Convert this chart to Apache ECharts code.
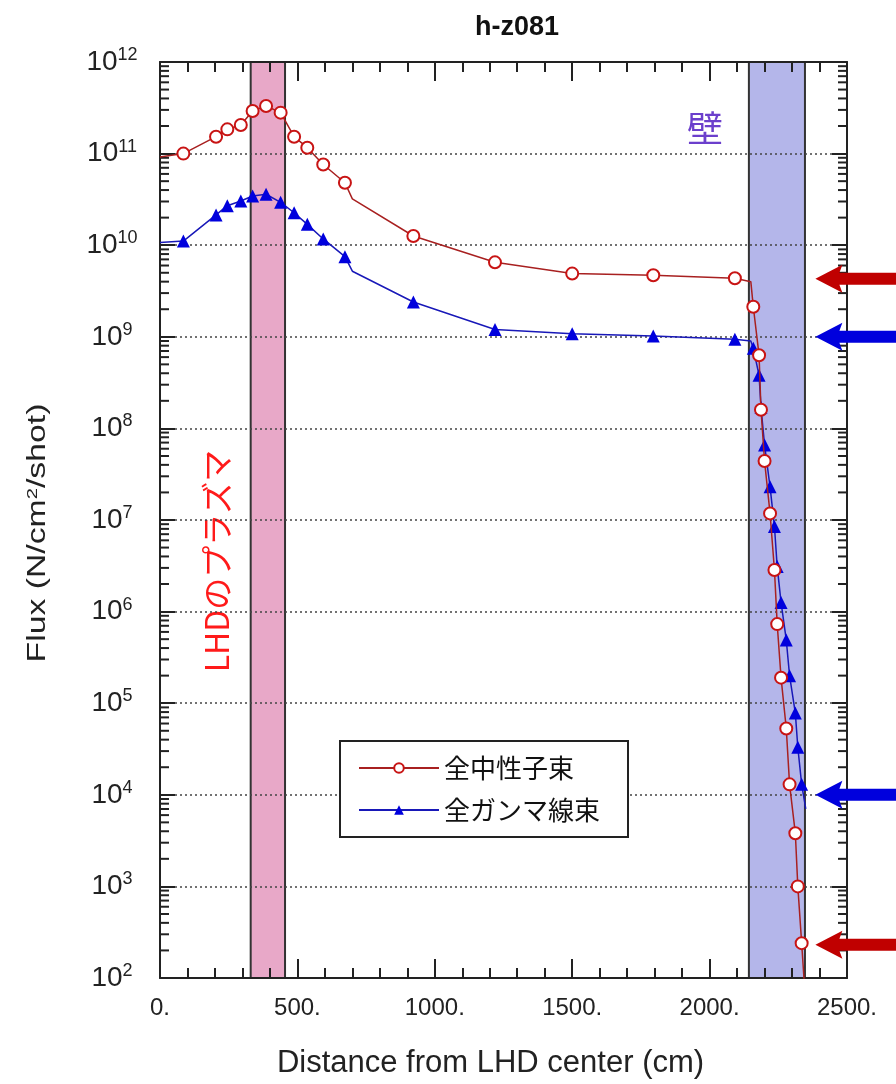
<!DOCTYPE html>
<html>
<head>
<meta charset="utf-8">
<title>h-z081</title>
<script src="https://cdn.jsdelivr.net/npm/echarts@6/dist/echarts.min.js"></script>
<style>
  html, body { margin: 0; padding: 0; background: #fff; }
  #chart { width: 896px; height: 1084px; }
</style>
</head>
<body>
<div id="chart"></div>
<script>
// distance from LHD center (cm), shared by both curves
const distance = [0, 85, 204, 245, 294, 337, 386, 439, 488, 536,
  594, 673, 700, 922, 1219, 1500, 1795, 2092, 2150, 2159,
  2180, 2187, 2200, 2220, 2236, 2246, 2260, 2279, 2291, 2312,
  2321, 2335, 2350]
// 全中性子束 (N/cm2/shot)
const neutronFlux = [9.2e10, 1.0e11, 1.53e11, 1.84e11, 2.05e11, 2.92e11, 3.31e11, 2.8e11, 1.53e11, 1.16e11,
  7.6e10, 4.8e10, 3.2e10, 1.26e10, 6.5e9, 4.9e9, 4.7e9, 4.35e9, 4.0e9, 2.13e9,
  6.3e8, 1.6e8, 4.4e7, 1.18e7, 2.85e6, 7.3e5, 1.9e5, 5.3e4, 1.3e4, 3.8e3,
  1.0e3, 2.4e2, 50]
// 全ガンマ線束
const gammaFlux = [1.07e10, 1.11e10, 2.14e10, 2.7e10, 3.04e10, 3.45e10, 3.6e10, 2.94e10, 2.26e10, 1.69e10,
  1.17e10, 7.5e9, 5.2e9, 2.4e9, 1.2e9, 1.08e9, 1.02e9, 9.4e8, 9.0e8, 7.5e8,
  3.8e8, 1.7e8, 6.6e7, 2.3e7, 8.5e6, 3.1e6, 1.26e6, 4.9e5, 2.0e5, 7.8e4,
  3.3e4, 1.3e4, 7e3]
// points drawn without a marker (line vertices only)
const unmarked = [0, 12, 18, 32]

// shaded regions: LHD plasma and wall
const bandStart = [330, 2143]
const bandEnd = [455, 2347]
const bandColors = ['#e8a8c8', '#b4b6ea']

// arrows at the right edge
const arrowFlux = [4.3e9, 1.0e9, 1.0e4, 2.3e2]
const arrowColors = ['#c00000', '#0000dd', '#0000dd', '#c00000']
const arrowTipX = 2385

const xTicks = [0, 500, 1000, 1500, 2000, 2500]
const yDecades = [2, 3, 4, 5, 6, 7, 8, 9, 10, 11, 12]
const minorMult = [2, 3, 4, 5, 6, 7, 8, 9]

const latin = '"Liberation Sans", Arial, sans-serif'
const cjk = '"Noto Sans CJK JP", sans-serif'
const frame = '#222'

const minorValues = []
yDecades.slice(0, -1).forEach(d => minorMult.forEach(m => minorValues.push(m * Math.pow(10, d))))

function seriesData(flux) {
  return distance.map((x, i) =>
    unmarked.includes(i) ? { value: [x, flux[i]], symbol: 'none' } : [x, flux[i]])
}

const xAxisBase = {
  type: 'value',
  min: xTicks[0],
  max: xTicks[xTicks.length - 1],
  interval: 500,
  axisLine: { show: true, onZero: false, lineStyle: { color: frame, width: 2 } },
  axisTick: { show: true, inside: true, length: 19, lineStyle: { color: frame, width: 2 } },
  minorTick: { show: true, splitNumber: 5, length: 10, lineStyle: { color: frame, width: 2 } },
  splitLine: { show: false },
}

const yAxisBase = {
  type: 'log',
  logBase: 10,
  min: 1e2,
  max: 1e12,
  splitNumber: 10,
  axisLine: { show: true, onZero: false, lineStyle: { color: frame, width: 2 } },
  axisTick: { show: true, inside: true, length: 15, lineStyle: { color: frame, width: 2 } },
}

const chart = echarts.init(document.getElementById('chart'))

chart.setOption({
  animation: false,
  backgroundColor: '#fff',
  grid: { left: 160, right: 49, top: 62, bottom: 106 },
  graphic: [
    {
      type: 'text', x: 517, y: 28,
      style: { text: 'h-z081', fill: '#111', font: 'bold 27px ' + latin, align: 'center', verticalAlign: 'middle' },
    },
    {
      type: 'text', x: 705, y: 128,
      style: { text: '壁', fill: '#6b3fcc', font: '36px ' + cjk, align: 'center', verticalAlign: 'middle' },
    },
    {
      type: 'text', x: 217, y: 561, rotation: Math.PI / 2,
      style: { text: 'LHDのプラズマ', fill: '#ff1a1a', font: '32px ' + cjk, align: 'center', verticalAlign: 'middle' },
    },
    {
      type: 'text', x: 38, y: 533, rotation: Math.PI / 2, scaleX: 1.35,
      style: {
        text: 'Flux (N/cm{s|2}/shot)', fill: '#222', font: '25px ' + latin,
        align: 'center', verticalAlign: 'middle',
        rich: { s: { fontSize: 15, fill: '#222', fontFamily: latin, padding: [0, 0, 10, 0] } },
      },
    },
  ],
  legend: {
    data: ['全中性子束', '全ガンマ線束'],
    orient: 'vertical',
    left: 340,
    top: 741,
    itemWidth: 80,
    itemHeight: 12,
    itemGap: 16,
    padding: [14, 28, 14, 18],
    borderColor: frame,
    borderWidth: 2,
    backgroundColor: '#fff',
    textStyle: { fontSize: 26, fontFamily: cjk, color: '#111' },
  },
  xAxis: [
    {
      ...xAxisBase,
      position: 'bottom',
      axisLabel: { formatter: v => v + '.', fontSize: 24, color: '#222', margin: 18, fontFamily: latin },
      name: 'Distance from LHD center (cm)',
      nameLocation: 'middle',
      nameGap: 70,
      nameTextStyle: { fontSize: 31, color: '#222', fontFamily: latin, padding: [0, 26, 0, 0] },
    },
    { ...xAxisBase, position: 'top', axisLabel: { show: false } },
  ],
  yAxis: [
    {
      ...yAxisBase,
      position: 'left',
      splitLine: { show: true, lineStyle: { type: [2, 3], color: '#444', width: 1.5 } },
      axisLabel: {
        margin: 48,
        align: 'center',
        formatter: v => '{b|10}{s|' + Math.round(Math.log10(v)) + '}',
        rich: {
          b: { fontSize: 28, color: '#222', fontFamily: latin },
          s: { fontSize: 18, color: '#222', fontFamily: latin, padding: [0, 0, 14, 0] },
        },
      },
    },
    { ...yAxisBase, position: 'right', splitLine: { show: false }, axisLabel: { show: false } },
  ],
  series: [
    {
      type: 'custom',
      name: 'bands',
      z: -1,
      silent: true,
      encode: { x: [0, 1], y: 2 },
      data: bandStart.map((s, i) => [s, bandEnd[i], 1e2]),
      renderItem(params, api) {
        const p0 = api.coord([api.value(0), 1e12])
        const p1 = api.coord([api.value(1), 1e2])
        return {
          type: 'rect',
          shape: { x: p0[0], y: p0[1], width: p1[0] - p0[0], height: p1[1] - p0[1] },
          style: { fill: bandColors[params.dataIndex], stroke: '#333', lineWidth: 2 },
        }
      },
    },
    {
      type: 'line',
      name: '全中性子束',
      data: seriesData(neutronFlux),
      symbol: 'emptyCircle',
      symbolSize: 12,
      itemStyle: { color: '#c81414', borderWidth: 2.5 },
      lineStyle: { color: '#a82020', width: 1.5 },
      z: 4,
    },
    {
      type: 'line',
      name: '全ガンマ線束',
      data: seriesData(gammaFlux),
      symbol: 'triangle',
      symbolSize: 13,
      itemStyle: { color: '#0000dd' },
      lineStyle: { color: '#1818b8', width: 1.5 },
      z: 3,
    },
    {
      type: 'custom',
      name: 'minorTicks',
      silent: true,
      encode: { y: 0 },
      data: minorValues.map(v => [v]),
      renderItem(params, api) {
        const l = api.coord([xTicks[0], api.value(0)])
        const r = api.coord([xTicks[xTicks.length - 1], api.value(0)])
        const st = { stroke: frame, lineWidth: 2 }
        return {
          type: 'group',
          children: [
            { type: 'line', shape: { x1: l[0], y1: l[1], x2: l[0] + 9, y2: l[1] }, style: st },
            { type: 'line', shape: { x1: r[0], y1: r[1], x2: r[0] - 9, y2: r[1] }, style: st },
          ],
        }
      },
    },
    {
      type: 'custom',
      name: 'arrows',
      silent: true,
      z: 10,
      encode: { x: 0, y: 1 },
      data: arrowFlux.map(v => [arrowTipX, v]),
      renderItem(params, api) {
        const p = api.coord([api.value(0), api.value(1)])
        const x = p[0], y = p[1]
        return {
          type: 'polygon',
          shape: {
            points: [
              [x, y], [x + 27, y - 14], [x + 24, y - 6], [x + 90, y - 6],
              [x + 90, y + 6], [x + 24, y + 6], [x + 27, y + 14],
            ],
          },
          style: { fill: arrowColors[params.dataIndex] },
        }
      },
    },
  ],
})
</script>
</body>
</html>
